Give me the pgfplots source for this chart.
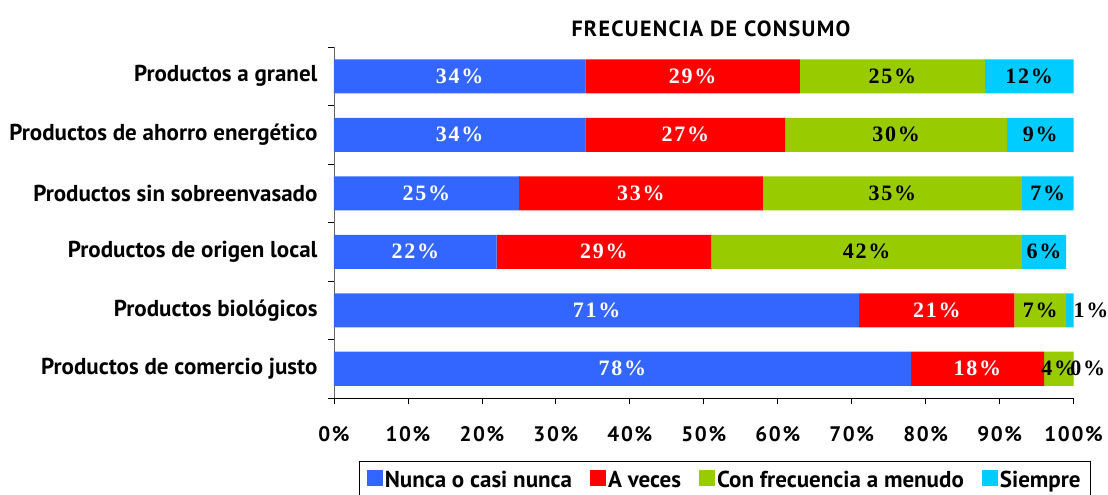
\documentclass[border=0pt]{standalone}
\usepackage{pgfplots}
\pgfplotsset{compat=1.18}
\usepackage{fontspec}
\setmainfont{PT Sans}
\newfontfamily\barfont[LetterSpace=8]{Liberation Serif}
\definecolor{cblue}{HTML}{3366FF}
\definecolor{cred}{HTML}{FF0000}
\definecolor{cgreen}{HTML}{99CC00}
\definecolor{ccyan}{HTML}{00CCFF}
\newcommand{\catf}{\bfseries\fontsize{23}{24}\selectfont}
\newcommand{\tickf}{\bfseries\fontsize{21}{22}\selectfont\addfontfeatures{LetterSpace=8}}
\newcommand{\legf}{\bfseries\fontsize{23}{24}\selectfont}
\newcommand{\barf}{\barfont\bfseries\fontsize{22}{23}\selectfont}
\pgfplotsset{
  seglab/.style={
    nodes near coords={\pgfmathprintnumber{\pgfplotspointmeta}\%},
    point meta=explicit,
    visualization depends on={\thisrow{off} \as \myoff},
    every node near coord/.style={font=\barf, text=#1, anchor=center, inner sep=0pt,
      xshift={\myoff pt}},
  }
}
\begin{document}
\begin{tikzpicture}
\begin{axis}[
  name=ax,
  xbar stacked,
  scale only axis,
  width=740pt, height=351pt,
  xmin=0, xmax=100.05,
  ymin=-0.5, ymax=5.5,
  bar width=34pt,
  axis x line*=bottom,
  axis y line*=left,
  y axis line style={draw=gray!80!black, line width=0.8pt},
  x axis line style={draw=black, line width=0.8pt},
  tick align=outside,
  major tick length=6pt,
  tick style={black, line width=0.8pt},
  xtick={0,10,...,100},
  xticklabel={\pgfmathprintnumber{\tick}\%},
  /pgf/number format/assume math mode=true,
  xticklabel style={font=\tickf, anchor=center, yshift=-30pt},
  ytick={-0.5,0.5,...,5.5},
  yticklabels={,,,,,,,},
  extra y ticks={0,1,2,3,4,5},
  extra y tick labels={Productos de comercio justo, Productos biológicos, Productos de origen local, Productos sin sobreenvasado, Productos de ahorro energético, Productos a granel},
  extra y tick style={major tick length=0pt, yticklabel style={font=\catf, anchor=east, xshift=-13pt}},
  title={FRECUENCIA DE CONSUMO},
  title style={at={(axis description cs:0.5,1)}, anchor=center, yshift=12pt, xshift=7pt, font=\bfseries\fontsize{22}{24}\selectfont\addfontfeatures{LetterSpace=6}},
  legend columns=4,
  legend style={at={(axis description cs:0.528,-0.1795)}, anchor=north, draw=black, font=\legf,
    nodes={inner sep=2pt}, inner xsep=8pt, inner ysep=8pt,
    /tikz/every even column/.append style={column sep=16pt}},
  legend image code/.code={\fill[#1] (0pt,-6pt) rectangle (16pt,10pt);},
]
\addplot[fill=cblue, draw=none, seglab=white] table[x=v, y=y, meta=m] {
y v off m
5 34 0 34
4 34 0 34
3 25 0 25
2 22 0 22
1 71 0 71
0 78 0 78
};
\addlegendentry{Nunca o casi nunca}
\addplot[fill=cred, draw=none, seglab=white] table[x=v, y=y, meta=m] {
y v off m
5 29 0 29
4 27 0 27
3 33 0 33
2 29 0 29
1 21 0 21
0 18 0 18
};
\addlegendentry{A veces}
\addplot[fill=cgreen, draw=none, seglab=black] table[x=v, y=y, meta=m] {
y v off m
5 25 0 25
4 30 0 30
3 35 0 35
2 42 0 42
1 7 0 7
0 4 0 4
};
\addlegendentry{Con frecuencia a menudo}
\addplot[fill=ccyan, draw=none, seglab=black] table[x=v, y=y, meta=m] {
y v off m
5 12 0 12
4 9 0 9
3 7 0 7
2 6 0 6
1 1 21 1
0 0.01 14 0
};
\addlegendentry{Siempre}
\end{axis}
\pgfresetboundingbox
\path[use as bounding box] ([xshift=-334pt,yshift=-97pt]ax.south west) rectangle ([xshift=34pt,yshift=47pt]ax.north east);
\end{tikzpicture}
\end{document}
